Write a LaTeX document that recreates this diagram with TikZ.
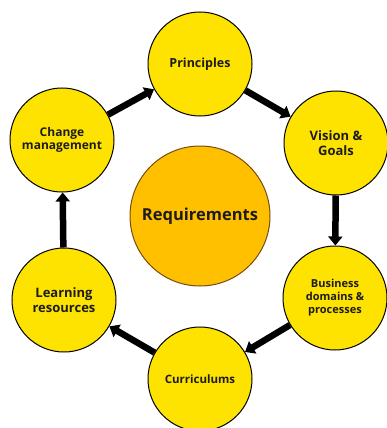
\documentclass[tikz,border=0pt]{standalone}
\usepackage{fontspec}
\setmainfont{Open Sans}
\usetikzlibrary{arrows.meta,shapes.geometric}
\definecolor{ylw}{HTML}{FFE300}
\definecolor{org}{HTML}{FFC000}
\definecolor{orgedge}{HTML}{7A4A10}
\definecolor{txt}{HTML}{1C1C1C}
\begin{document}
\begin{tikzpicture}[x=1pt,y=-1pt,
  stage/.style={circle,draw=black,line width=1pt,fill=ylw,minimum size=104pt,inner sep=0pt,align=center,text=txt,font=\bfseries},
  core/.style={circle,draw=orgedge,line width=1pt,fill=org,minimum size=140pt,inner sep=0pt,text=txt,font=\bfseries\fontsize{16.5}{19}\selectfont},
  flow/.style={line width=6.5pt,-{Triangle[width=14pt,length=9pt]}}]
\useasboundingbox (0,0) rectangle (387,428);
\node[core] (req) at (200,216) {Requirements};
\node[stage,font=\bfseries\fontsize{12.5}{14}\selectfont] (pri) at (200,64) {Principles};
\node[stage,font=\bfseries\fontsize{13}{15}\selectfont] (vis) at (336,143) {Vision \&\\Goals};
\node[stage,font=\bfseries\fontsize{11}{13}\selectfont] (bus) at (335,298) {Business\\domains \&\\processes};
\node[stage,font=\bfseries\fontsize{11.5}{13}\selectfont] (cur) at (200,379) {Curriculums};
\node[stage,font=\bfseries\fontsize{13}{14.5}\selectfont] (lrn) at (64,300) {Learning\\resources};
\node[stage,font=\bfseries\fontsize{12}{13.5}\selectfont] (chg) at (62,140) {Change\\management};
\draw[flow] (pri) -- (vis);
\draw[flow] (vis) -- (bus);
\draw[flow] (bus) -- (cur);
\draw[flow] (cur) -- (lrn);
\draw[flow] (lrn) -- (chg);
\draw[flow] (chg) -- (pri);
\end{tikzpicture}
\end{document}
